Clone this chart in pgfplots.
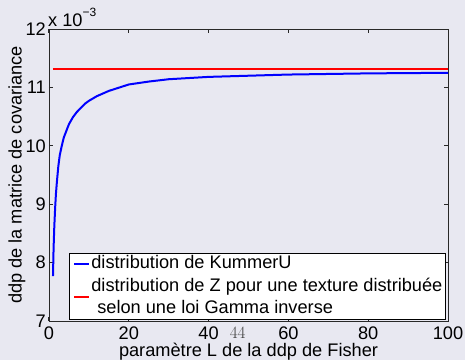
\documentclass[border=0pt]{standalone}
\usepackage{pgfplots}
\pgfplotsset{compat=1.18}
\usepackage{fontspec}
\setmainfont{Liberation Sans}
\definecolor{bgc}{RGB}{232,232,241}
\definecolor{axc}{RGB}{40,40,40}
\newcommand{\fs}{\fontsize{18.2bp}{22.35bp}\selectfont}
\pgfplotsset{
  bluelegend/.style={legend image code/.code={\path (0bp,0bp) (14.7bp,0bp); \draw[##1,overlay] (0bp,5.3bp) -- (14.7bp,5.3bp);}},
  redlegend/.style={legend image code/.code={\path (0bp,0bp) (14.7bp,0bp); \draw[##1,overlay] (0bp,-6bp) -- (14.7bp,-6bp);}},
}
\begin{document}
\begin{tikzpicture}
\fill[bgc] (-49bp,-39bp) rectangle (416bp,321bp);
\begin{axis}[
  at={(0,0)}, anchor=south west,
  scale only axis, width=399bp, height=292bp,
  clip mode=individual,
  xmin=0, xmax=100, ymin=7, ymax=12,
  xtick={0,20,40,60,80,100}, ytick={7,8,9,10,11,12},
  xtick pos=both, ytick pos=both,
  tick align=inside,
  major tick style={axc, line width=1bp},
  major tick length=4bp,
  axis line style={axc, line width=0.9bp},
  /pgf/number format/assume math mode=true,
  ticklabel style={font=\fs, inner sep=0pt},
  xticklabel style={anchor=base, yshift=-18bp},
  yticklabel style={anchor=east, xshift=-3bp},
  xlabel={paramètre L de la ddp de Fisher},
  xlabel style={at={(axis description cs:0.5,-0.12226)}, anchor=base, inner sep=0pt, font=\fs},
  ylabel={ddp de la matrice de covariance},
  ylabel style={at={(axis description cs:-0.06867,0.5)}, anchor=base, inner sep=0pt, font=\fs},
  legend style={at={(axis description cs:0.995,0.0058)}, anchor=south east,
    draw=black, line width=0.8bp, fill=white,
    inner xsep=3.2bp, inner ysep=1bp, row sep=3.75bp, column sep=1.6bp,
    font=\fs,
    cells={anchor=base west},
    nodes={inner sep=0pt, text height=14.3bp, text depth=4.3bp, anchor=base west}},
]
\addplot[color=blue, line width=2bp, mark=none, bluelegend]
  table {
x y
1 7.77
1.15 8.25
1.33 8.62
1.55 8.95
1.75 9.19
2 9.40
2.34 9.65
2.7 9.84
3.17 9.99
3.7 10.14
4.43 10.27
5 10.37
6 10.49
7 10.58
8 10.65
9 10.72
10 10.77
12 10.85
15 10.94
20 11.05
25 11.10
30 11.14
40 11.18
50 11.20
60 11.22
70 11.23
80 11.24
90 11.245
100 11.25
};
\addlegendentry{distribution de KummerU}
\addplot[color=red, line width=1.8bp, mark=none, redlegend]
  table {
x y
1 11.31
100 11.31
};
\addlegendentry{distribution de Z pour une texture distribuée}
\addlegendimage{empty legend}
\addlegendentry{\hspace{6bp}selon une loi Gamma inverse}
\node[anchor=base west, inner sep=0pt, font=\fs] at (axis description cs:0,1) [xshift=-1bp, yshift=2.3bp] {x 10\raisebox{10.5bp}{\fontsize{12bp}{12bp}\selectfont −3}};
\node[anchor=base, inner sep=0pt, font=\fontsize{18bp}{18bp}\selectfont, text=black!75] at (axis description cs:0.4729,0) [yshift=-17.3bp] {$44$};
\end{axis}
\pgfresetboundingbox
\useasboundingbox (-49bp,-39bp) rectangle (416bp,321bp);
\end{tikzpicture}
\end{document}
